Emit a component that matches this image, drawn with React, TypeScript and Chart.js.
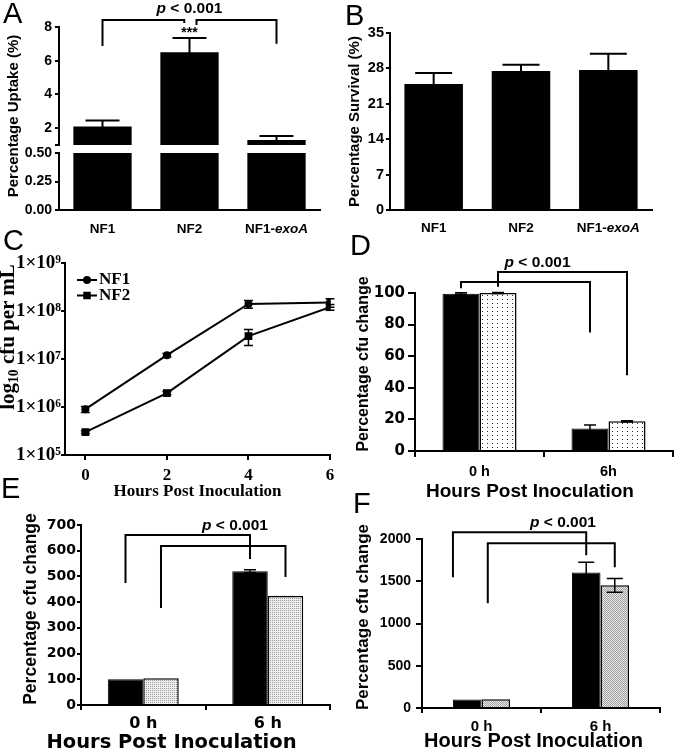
import React, { useEffect, useRef } from 'react';
import { Chart, registerables } from 'chart.js';

Chart.register(...registerables);

const SANS = "'Liberation Sans', Arial, sans-serif";
const SERIF = "'Liberation Serif', 'Times New Roman', serif";
const WIDE = "'DejaVu Sans', sans-serif";
Chart.defaults.font.family = SANS;

// ================= DATA =================
// Panel A / B categories
const strainCategories = ['NF1', 'NF2', 'NF1-exoA'];
const italicTerm = 'exoA';

// Panel A – Percentage uptake (broken axis)
const uptakeValues = [2.1, 6.5, 1.3];
const uptakeErrors = [0.35, 0.85, 0.23];
const uptakeUpperTicks = [1, 2, 4, 6, 8];
const uptakeUpperTickLabels = ['', '2', '4', '6', '8'];
const uptakeLowerTicks = [0, 0.25, 0.5];
const uptakeLowerTickLabels = ['0.00', '0.25', '0.50'];

// Panel B – Percentage survival
const survivalValues = [24.9, 27.5, 27.7];
const survivalErrors = [2.2, 1.2, 3.2];
const survivalTicks = [0, 7, 14, 21, 28, 35];

// Panel C – growth curve
const hoursPI = [0, 2, 4, 6];
const growthNF1 = [9.0e5, 1.2e7, 1.4e8, 1.5e8];
const growthNF1Err = [1.3e5, 1.0e6, 2.6e7, 3.0e7];
const growthNF2 = [3.0e5, 1.95e6, 3.0e7, 1.2e8];
const growthNF2Err = [2.0e4, 1.5e5, 1.1e7, 1.6e7];
const hourTicks = [0, 2, 4, 6];
const growthTicks = [1e5, 1e6, 1e7, 1e8, 1e9];
const growthTickLabels = ['1×10⁵', '1×10⁶', '1×10⁷', '1×10⁸', '1×10⁹'];

// Panel D
const timeCategoriesD = ['0 h', '6h'];
const changeD_NF1 = [99.6, 14.2];
const changeD_NF1Err = [0.5, 2.2];
const changeD_NF2 = [100, 18.8];
const changeD_NF2Err = [0.3, 0.4];
const changeDTicks = [0, 20, 40, 60, 80, 100];

// Panel E
const timeCategoriesE = ['0 h', '6 h'];
const changeE_NF1 = [100, 520];
const changeE_NF1Err = [0, 6];
const changeE_NF2 = [104, 424];
const changeE_NF2Err = [0, 0];
const changeETicks = [0, 100, 200, 300, 400, 500, 600, 700];

// Panel F
const timeCategoriesF = ['0 h', '6 h'];
const changeF_NF1 = [100, 1605];
const changeF_NF1Err = [0, 120];
const changeF_NF2 = [103, 1452];
const changeF_NF2Err = [0, 82];
const changeFTicks = [0, 500, 1000, 1500, 2000];

const pValueText = [{ t: 'p', italic: true }, { t: ' < 0.001' }];

// significance brackets (y in data units of each panel)
const aBrackets = [
  { from: { ds: 0, i: 0, y: 6.88 }, to: { ds: 0, i: 1, dx: -0.09, y: 8.24 }, top: 8.41 },
  { from: { ds: 0, i: 1, dx: 0.12, y: 8.12 }, to: { ds: 0, i: 2, y: 7.0 }, top: 8.41 },
];
const dBrackets = [
  { from: { ds: 0, i: 0, y: 103 }, to: { ds: 0, i: 1, y: 75 }, top: 107 },
  { from: { ds: 1, i: 0, y: 104 }, to: { ds: 1, i: 1, y: 48 }, top: 113.3 },
];
const eBrackets = [
  { from: { ds: 0, i: 0, y: 474 }, to: { ds: 0, i: 1, y: 568 }, top: 661 },
  { from: { ds: 1, i: 0, y: 377 }, to: { ds: 1, i: 1, y: 498 }, top: 618 },
];
const fBrackets = [
  { from: { ds: 0, i: 0, dx: -0.5, y: 1548 }, to: { ds: 0, i: 1, y: 1808 }, top: 2080 },
  { from: { ds: 1, i: 0, dx: -0.28, y: 1241 }, to: { ds: 1, i: 1, y: 1667 }, top: 1950 },
];

// ================= HELPERS =================
type Part = { t: string; italic?: boolean };

const fnt = (size: number, family = SANS, weight: any = 'bold') => ({ family, size, weight, lineHeight: 1.2 });
const fontStr = (size: number, family: string, italic = false) => `${italic ? 'italic ' : ''}bold ${size}px ${family}`;

function drawParts(ctx: CanvasRenderingContext2D, parts: Part[], cx: number, cy: number, size: number, family: string, baseline: CanvasTextBaseline = 'middle') {
  let total = 0;
  const widths = parts.map((p) => {
    ctx.font = fontStr(size, family, !!p.italic);
    const w = ctx.measureText(p.t).width;
    total += w;
    return w;
  });
  let x = cx - total / 2;
  ctx.textAlign = 'left';
  ctx.textBaseline = baseline;
  ctx.fillStyle = '#000';
  parts.forEach((p, k) => {
    ctx.font = fontStr(size, family, !!p.italic);
    ctx.fillText(p.t, x, cy);
    x += widths[k];
  });
}

function splitItalic(label: string): Part[] {
  const k = label.indexOf(italicTerm);
  if (k < 0) return [{ t: label }];
  return [
    { t: label.slice(0, k) },
    { t: italicTerm, italic: true },
    { t: label.slice(k + italicTerm.length) },
  ].filter((p) => p.t.length > 0);
}

function annot(cfg: any) {
  return {
    id: 'annot',
    afterDatasetsDraw(chart: any) {
      const ctx: CanvasRenderingContext2D = chart.ctx;
      const xs = chart.scales.x;
      const ys = chart.scales.y;
      ctx.save();
      ctx.strokeStyle = '#000';
      ctx.fillStyle = '#000';
      ctx.lineCap = 'butt';
      ctx.lineJoin = 'miter';
      // error bars
      if (cfg.errors) {
        ctx.lineWidth = cfg.errWidth ?? 2;
        cfg.errors.forEach((errs: number[] | null, d: number) => {
          if (!errs) return;
          const meta = chart.getDatasetMeta(d);
          const yScale = chart.scales[meta.yAxisID];
          const data = chart.data.datasets[d].data;
          errs.forEach((e, i) => {
            if (!e) return;
            const raw = data[i];
            const v = typeof raw === 'number' ? raw : raw.y;
            const x = meta.data[i].x;
            const top = yScale.getPixelForValue(v + e);
            const low = v - e > 0 ? v - e : v;
            const bot = yScale.getPixelForValue(low);
            const hw = (cfg.capWidth ?? 10) / 2;
            ctx.beginPath();
            ctx.moveTo(x, bot);
            ctx.lineTo(x, top);
            ctx.moveTo(x - hw, top);
            ctx.lineTo(x + hw, top);
            ctx.moveTo(x - hw, bot);
            ctx.lineTo(x + hw, bot);
            ctx.stroke();
          });
        });
      }
      // brackets
      if (cfg.brackets) {
        ctx.lineWidth = cfg.bracketWidth ?? 2;
        const ax = (a: any) => {
          const el = chart.getDatasetMeta(a.ds).data[a.i];
          return el.x + (a.dx || 0) * (el.width || 0);
        };
        cfg.brackets.forEach((b: any) => {
          const x1 = ax(b.from);
          const x2 = ax(b.to);
          const yt = ys.getPixelForValue(b.top);
          ctx.beginPath();
          ctx.moveTo(x1, ys.getPixelForValue(b.from.y));
          ctx.lineTo(x1, yt);
          ctx.lineTo(x2, yt);
          ctx.lineTo(x2, ys.getPixelForValue(b.to.y));
          ctx.stroke();
        });
      }
      // texts
      (cfg.texts || []).forEach((tx: any) => {
        drawParts(ctx, tx.parts, xs.getPixelForValue(tx.x), ys.getPixelForValue(tx.y), tx.size, tx.family || SANS);
      });
      // custom rich category labels
      if (cfg.xLabels) {
        const base = chart.chartArea.bottom + cfg.xLabels.offset;
        chart.data.labels.forEach((lab: string, i: number) => {
          drawParts(ctx, splitItalic(lab), xs.getPixelForValue(i), base, cfg.xLabels.size, SANS, 'alphabetic');
        });
      }
      // inline legend (line + marker)
      if (cfg.legend) {
        const L = cfg.legend;
        const ca = chart.chartArea;
        chart.data.datasets.forEach((ds: any, d: number) => {
          const cy = ca.top + L.y + d * L.gap;
          const x0 = ca.left + L.x;
          ctx.lineWidth = 2;
          ctx.beginPath();
          ctx.moveTo(x0, cy);
          ctx.lineTo(x0 + L.len, cy);
          ctx.stroke();
          const mx = x0 + L.len / 2;
          if (ds.pointStyle === 'rect') {
            ctx.fillRect(mx - L.rect / 2, cy - L.rect / 2, L.rect, L.rect);
          } else {
            ctx.beginPath();
            ctx.arc(mx, cy, L.r, 0, Math.PI * 2);
            ctx.fill();
          }
          ctx.font = fontStr(L.size, SERIF);
          ctx.textAlign = 'left';
          ctx.textBaseline = 'middle';
          ctx.fillText(ds.label, x0 + L.len + L.pad, cy);
        });
      }
      ctx.restore();
    },
  };
}

function makePattern(kind: string) {
  const c = document.createElement('canvas');
  const g = c.getContext('2d')!;
  if (kind === 'dots') {
    c.width = 5; c.height = 4;
    g.fillStyle = '#ffffff'; g.fillRect(0, 0, 5, 4);
    g.fillStyle = '#2a2a2a'; g.fillRect(2, 1, 1, 1);
  } else if (kind === 'fine') {
    c.width = 2; c.height = 2;
    g.fillStyle = '#eeeeee'; g.fillRect(0, 0, 2, 2);
    g.fillStyle = '#9a9a9a'; g.fillRect(0, 0, 1, 1);
  } else {
    c.width = 2; c.height = 2;
    g.fillStyle = '#e8e8e8'; g.fillRect(0, 0, 2, 2);
    g.fillStyle = '#a0a0a0'; g.fillRect(0, 0, 1, 1); g.fillRect(1, 1, 1, 1);
  }
  return g.createPattern(c, 'repeat');
}

const common = {
  animation: false,
  responsive: false,
  maintainAspectRatio: false,
  devicePixelRatio: 1,
  events: [],
};
const noLegend = { legend: { display: false }, tooltip: { enabled: false } };
const borderOpt = { display: true, color: '#000', width: 2, z: 1 };
const gridTicks = (len: number, offset = false) => ({
  display: true, offset, drawOnChartArea: false, drawTicks: true,
  tickLength: len, tickWidth: 2, tickColor: '#000', color: '#000', lineWidth: 2,
});
const zeroPad = (s: any) => { s.paddingTop = 0; s.paddingBottom = 0; s.paddingLeft = 0; s.paddingRight = 0; };

function yAxis(o: any) {
  return {
    type: o.type || 'linear',
    min: o.min,
    max: o.max,
    afterBuildTicks: (s: any) => { s.ticks = o.ticks.map((v: number) => ({ value: v })); },
    afterFit: (s: any) => { s.width = o.width; zeroPad(s); },
    ticks: {
      autoSkip: false, color: '#000', font: o.font, padding: o.pad,
      callback: o.labels ? (_v: any, i: number) => o.labels[i] : (v: any) => String(v),
    },
    grid: gridTicks(o.tickLen),
    border: borderOpt,
    title: o.title
      ? { display: true, text: o.title, color: '#000', font: o.titleFont, padding: { top: o.titlePad, bottom: 0 } }
      : { display: false },
  };
}

function xCat(o: any) {
  return {
    type: 'category',
    offset: true,
    afterFit: (s: any) => { s.height = o.height; zeroPad(s); },
    ticks: { display: !!o.showTicks, color: '#000', font: o.font, padding: o.pad ?? 0, autoSkip: false, maxRotation: 0, minRotation: 0 },
    grid: o.tickLen ? gridTicks(o.tickLen, true) : { display: false },
    border: borderOpt,
    title: o.title
      ? { display: true, text: o.title, color: '#000', font: o.titleFont, padding: { top: 0, bottom: 0 } }
      : { display: false },
  };
}

// ================= CHART BUILDERS =================
function buildAUpper() {
  return {
    type: 'bar',
    data: {
      labels: strainCategories,
      datasets: [{ label: 'Uptake', data: uptakeValues, backgroundColor: '#000', borderWidth: 0, barPercentage: 0.67, categoryPercentage: 1, clip: 0 }],
    },
    options: {
      ...common,
      layout: { autoPadding: false, padding: { top: 27, right: 10, bottom: 5, left: 0 } },
      plugins: noLegend,
      scales: {
        x: { type: 'category', display: false, offset: true },
        y: yAxis({ min: 1, max: 8, ticks: uptakeUpperTicks, labels: uptakeUpperTickLabels, width: 59, font: fnt(14), pad: 3, tickLen: 4 }),
      },
    },
    plugins: [annot({
      errors: [uptakeErrors], capWidth: 34, errWidth: 2,
      brackets: aBrackets,
      texts: [
        { x: 1, y: 9.06, parts: pValueText, size: 15.5 },
        { x: 1, y: 7.62, parts: [{ t: '***' }], size: 14 },
      ],
    })],
  };
}

function buildALower() {
  return {
    type: 'bar',
    data: {
      labels: strainCategories,
      datasets: [{ label: 'Uptake', data: uptakeValues, backgroundColor: '#000', borderWidth: 0, barPercentage: 0.67, categoryPercentage: 1, clip: 0 }],
    },
    options: {
      ...common,
      layout: { autoPadding: false, padding: { top: 8, right: 10, bottom: 0, left: 0 } },
      plugins: noLegend,
      scales: {
        x: xCat({ height: 30 }),
        y: yAxis({ min: 0, max: 0.5, ticks: uptakeLowerTicks, labels: uptakeLowerTickLabels, width: 59, font: fnt(14), pad: 3, tickLen: 4 }),
      },
    },
    plugins: [annot({ xLabels: { offset: 23, size: 13.5 } })],
  };
}

function buildB() {
  return {
    type: 'bar',
    data: {
      labels: strainCategories,
      datasets: [{ label: 'Survival', data: survivalValues, backgroundColor: '#000', borderWidth: 0, barPercentage: 0.67, categoryPercentage: 1 }],
    },
    options: {
      ...common,
      layout: { autoPadding: false, padding: { top: 33, right: 25, bottom: 0, left: 0 } },
      plugins: noLegend,
      scales: {
        x: xCat({ height: 30 }),
        y: yAxis({ min: 0, max: 35, ticks: survivalTicks, width: 50, font: fnt(14.5), pad: 2, tickLen: 4,
          title: 'Percentage Survival (%)', titleFont: fnt(15), titlePad: 5.5 }),
      },
    },
    plugins: [annot({ errors: [survivalErrors], capWidth: 37, errWidth: 2, xLabels: { offset: 22, size: 13.5 } })],
  };
}

function buildC() {
  return {
    type: 'line',
    data: {
      datasets: [
        { label: 'NF1', data: hoursPI.map((h, i) => ({ x: h, y: growthNF1[i] })), borderColor: '#000', backgroundColor: '#000',
          borderWidth: 2, pointStyle: 'circle', pointRadius: 4, pointBorderWidth: 0, tension: 0 },
        { label: 'NF2', data: hoursPI.map((h, i) => ({ x: h, y: growthNF2[i] })), borderColor: '#000', backgroundColor: '#000',
          borderWidth: 2, pointStyle: 'rect', pointRadius: 5.5, pointBorderWidth: 0, tension: 0 },
      ],
    },
    options: {
      ...common,
      layout: { autoPadding: false, padding: { top: 43, right: 10, bottom: 0, left: 0 } },
      plugins: noLegend,
      scales: {
        x: {
          type: 'linear', min: -0.5, max: 6,
          afterBuildTicks: (s: any) => { s.ticks = hourTicks.map((v) => ({ value: v })); },
          afterFit: (s: any) => { s.height = 47; zeroPad(s); },
          ticks: { color: '#000', font: fnt(17, SERIF), padding: 5.6, autoSkip: false, maxRotation: 0, callback: (v: any) => String(v) },
          grid: gridTicks(5),
          border: borderOpt,
          title: { display: true, text: 'Hours Post Inoculation', color: '#000', font: fnt(17, SERIF), padding: { top: 0, bottom: 0 } },
        },
        y: yAxis({ type: 'logarithmic', min: 1e5, max: 1e9, ticks: growthTicks, labels: growthTickLabels, width: 65,
          font: fnt(19, SERIF), pad: 0, tickLen: 4 }),
      },
    },
    plugins: [annot({
      errors: [growthNF1Err, growthNF2Err], capWidth: 9, errWidth: 1.5,
      legend: { x: 12, y: 17, gap: 15.5, len: 20, pad: 2, size: 17, r: 4, rect: 7.5 },
    })],
  };
}

function buildD() {
  return {
    type: 'bar',
    data: {
      labels: timeCategoriesD,
      datasets: [
        { label: 'NF1', data: changeD_NF1, backgroundColor: '#000', borderColor: '#000', borderWidth: 1, barPercentage: 1, categoryPercentage: 0.574 },
        { label: 'NF2', data: changeD_NF2, backgroundColor: makePattern('dots'), borderColor: '#000', borderWidth: 1.5, barPercentage: 1, categoryPercentage: 0.574 },
      ],
    },
    options: {
      ...common,
      layout: { autoPadding: false, padding: { top: 43, right: 4, bottom: 0, left: 0 } },
      plugins: noLegend,
      scales: {
        x: xCat({ height: 50, showTicks: true, font: fnt(14.5), pad: 6.5, tickLen: 6 }),
        y: yAxis({ min: 0, max: 100, ticks: changeDTicks, width: 70, font: fnt(15, WIDE), pad: 3, tickLen: 7 }),
      },
    },
    plugins: [annot({
      errors: [changeD_NF1Err, changeD_NF2Err], capWidth: 12, errWidth: 1.5,
      brackets: dBrackets,
      texts: [{ x: 0.45, y: 119, parts: pValueText, size: 15.5 }],
    })],
  };
}

function buildE() {
  return {
    type: 'bar',
    data: {
      labels: timeCategoriesE,
      datasets: [
        { label: 'NF1', data: changeE_NF1, backgroundColor: '#000', borderColor: '#000', borderWidth: 1, barPercentage: 1, categoryPercentage: 0.57 },
        { label: 'NF2', data: changeE_NF2, backgroundColor: makePattern('fine'), borderColor: '#000', borderWidth: 1.5, barPercentage: 1, categoryPercentage: 0.57 },
      ],
    },
    options: {
      ...common,
      layout: { autoPadding: false, padding: { top: 25, right: 10, bottom: 0, left: 0 } },
      plugins: noLegend,
      scales: {
        x: xCat({ height: 48, showTicks: true, font: fnt(16, WIDE), pad: 4.2, tickLen: 5 }),
        y: yAxis({ min: 0, max: 700, ticks: changeETicks, width: 81, font: fnt(14, WIDE), pad: 1, tickLen: 4 }),
      },
    },
    plugins: [annot({
      errors: [changeE_NF1Err, changeE_NF2Err], capWidth: 12, errWidth: 1.5,
      brackets: eBrackets,
      texts: [{ x: 0.737, y: 699, parts: pValueText, size: 15.5 }],
    })],
  };
}

function buildF() {
  return {
    type: 'bar',
    data: {
      labels: timeCategoriesF,
      datasets: [
        { label: 'NF1', data: changeF_NF1, backgroundColor: '#000', borderColor: '#000', borderWidth: 1, barPercentage: 1, categoryPercentage: 0.48 },
        { label: 'NF2', data: changeF_NF2, backgroundColor: makePattern('check'), borderColor: '#000', borderWidth: 1.5, barPercentage: 1, categoryPercentage: 0.48 },
      ],
    },
    options: {
      ...common,
      layout: { autoPadding: false, padding: { top: 39, right: 17, bottom: 0, left: 0 } },
      plugins: noLegend,
      scales: {
        x: xCat({ height: 43, showTicks: true, font: fnt(15), pad: 4.5, tickLen: 5 }),
        y: yAxis({ min: 0, max: 2000, ticks: changeFTicks, width: 82, font: fnt(14), pad: 5, tickLen: 6 }),
      },
    },
    plugins: [annot({
      errors: [changeF_NF1Err, changeF_NF2Err], capWidth: 16, errWidth: 1.5,
      brackets: fBrackets,
      texts: [{ x: 0.685, y: 2187, parts: pValueText, size: 15.5 }],
    })],
  };
}

// ================= COMPONENTS =================
function ChartCanvas({ left, top, width, height, build }: { left: number; top: number; width: number; height: number; build: () => any }) {
  const ref = useRef<HTMLCanvasElement | null>(null);
  useEffect(() => {
    if (!ref.current) return;
    const chart = new Chart(ref.current, build());
    return () => chart.destroy();
  }, [build]);
  return (
    <canvas ref={ref} width={width} height={height}
      style={{ position: 'absolute', left, top, width, height, display: 'block' }} />
  );
}

const letterStyle = (left: number, top: number): React.CSSProperties => ({
  position: 'absolute', left, top, fontFamily: SANS, fontSize: 29, lineHeight: '29px', fontWeight: 400, color: '#000',
});

const rotatedTitle = (cx: number, cy: number, font: string): React.CSSProperties => ({
  position: 'absolute', left: cx, top: cy, transform: 'translate(-50%, -50%) rotate(-90deg)',
  whiteSpace: 'nowrap', font, lineHeight: 1, color: '#000',
});

const flatTitle = (cx: number, cy: number, font: string): React.CSSProperties => ({
  position: 'absolute', left: cx, top: cy, transform: 'translate(-50%, -50%)',
  whiteSpace: 'nowrap', font, lineHeight: 1, color: '#000',
});

export default function App() {
  return (
    <div style={{ position: 'absolute', left: 0, top: 0, width: 677, height: 749, overflow: 'hidden', background: '#fff' }}>
      <ChartCanvas left={0} top={0} width={330} height={150} build={buildAUpper} />
      <ChartCanvas left={0} top={145} width={330} height={95} build={buildALower} />
      <ChartCanvas left={340} top={0} width={337} height={240} build={buildB} />
      <ChartCanvas left={0} top={220} width={340} height={282} build={buildC} />
      <ChartCanvas left={345} top={250} width={332} height={251} build={buildD} />
      <ChartCanvas left={0} top={500} width={340} height={253} build={buildE} />
      <ChartCanvas left={340} top={500} width={337} height={251} build={buildF} />

      <div style={rotatedTitle(11.5, 116, `bold 15px ${SANS}`)}>Percentage Uptake (%)</div>
      <div style={rotatedTitle(9, 337, `bold 21px ${SERIF}`)}>
        log<span style={{ fontSize: '0.65em', verticalAlign: '-0.25em' }}>10</span> cfu per mL
      </div>

      <div style={rotatedTitle(362.5, 363.5, `bold 16px ${SANS}`)}>Percentage cfu change</div>
      <div style={flatTitle(530, 489.5, `bold 19px ${SANS}`)}>Hours Post Inoculation</div>

      <div style={rotatedTitle(30.5, 609, `bold 17.5px ${SANS}`)}>Percentage cfu change</div>
      <div style={flatTitle(171.5, 741.5, `bold 19.5px ${WIDE}`)}>Hours Post Inoculation</div>

      <div style={rotatedTitle(361.5, 616.5, `bold 17px ${SANS}`)}>Percentage cfu change</div>
      <div style={flatTitle(533.5, 740, `bold 20px ${SANS}`)}>Hours Post Inoculation</div>

      <div style={letterStyle(3, -1)}>A</div>
      <div style={letterStyle(345, 1)}>B</div>
      <div style={letterStyle(3, 226)}>C</div>
      <div style={letterStyle(350, 231)}>D</div>
      <div style={letterStyle(1, 474)}>E</div>
      <div style={letterStyle(353, 489)}>F</div>
    </div>
  );
}
